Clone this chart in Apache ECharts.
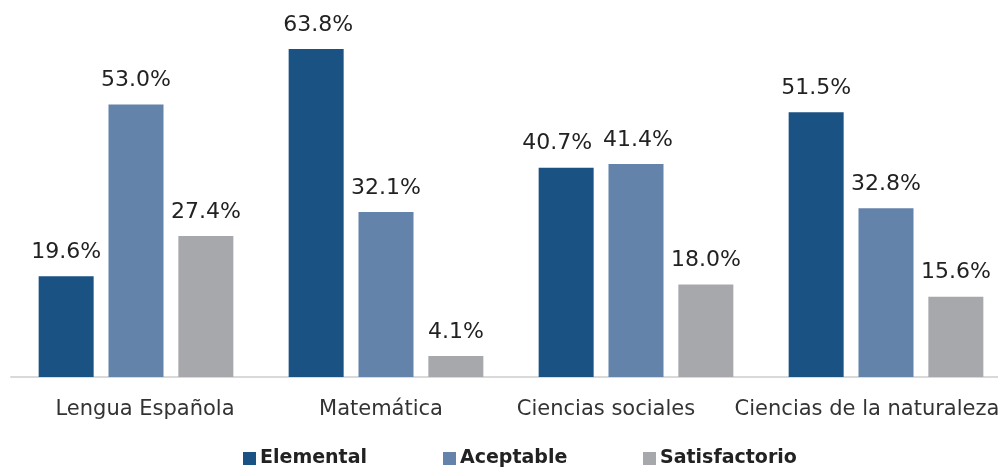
<!DOCTYPE html>
<html><head><meta charset="utf-8">
<script src="https://cdn.jsdelivr.net/npm/echarts@6/dist/echarts.min.js"></script>
<style>html,body{margin:0;padding:0;background:#fff;overflow:hidden}#c{width:1012px;height:467px}</style>
</head><body><div id="c"></div>
<script>
const categories = ['Lengua Española', 'Matemática', 'Ciencias sociales', 'Ciencias de la naturaleza'];
const seriesNames = ['Elemental', 'Aceptable', 'Satisfactorio'];
const elemental = [19.6, 63.8, 40.7, 51.5];
const aceptable = [53.0, 32.1, 41.4, 32.8];
const satisfactorio = [27.4, 4.1, 18.0, 15.6];
const colors = ['#1a5283', '#6383ab', '#a7a8ac'];
const FONT = 'DejaVu Sans';
const chart = echarts.init(document.getElementById('c'));
const values = [elemental, aceptable, satisfactorio];
const legendLefts = [238, 438, 638];
// horizontal nudges of value labels [series][category]
const labelShift = [[0, 2, -9, 0], [0, 0, 2, 0], [0, 0, 0, 0]];
// horizontal nudges of category labels (padding [top,right,bottom,left])
const labelPads = [[0,0,0,18],[0,10,0,0],[0,60,0,0],[0,38,0,0]];
const rich = {};
labelPads.forEach((p, i) => { rich['c' + i] = {fontSize: 21, color: '#333', fontFamily: FONT, padding: p}; });
chart.setOption({
  animation: false,
  textStyle: {fontFamily: FONT},
  grid: {left: 11, right: 1, top: 17, bottom: 90},
  legend: seriesNames.map((n, i) => ({
    data: [n], left: legendLefts[i], bottom: -6, itemWidth: 13, itemHeight: 13, itemGap: 4,
    icon: 'rect', textStyle: {fontSize: 19, fontWeight: 'bold', color: '#222', fontFamily: FONT, padding: [0,0,0,-1]}
  })),
  xAxis: {
    type: 'category', data: categories,
    axisLine: {lineStyle: {color: '#d9d9d9', width: 2}},
    axisTick: {show: false},
    axisLabel: {margin: 22, interval: 0, fontFamily: FONT, rich: rich,
      formatter: (v, i) => '{c' + i + '|' + v + '}'}
  },
  yAxis: {type: 'value', min: 0, max: 70, show: false, splitLine: {show: false}},
  series: seriesNames.map((n, i) => ({
    name: n, type: 'bar', barWidth: 55, barGap: '27%',
    data: values[i].map((v, j) => ({value: v, label: {offset: [labelShift[i][j], 0]}})),
    itemStyle: {color: colors[i]},
    label: {show: true, position: 'top', distance: 13, fontSize: 22, color: '#222', fontFamily: FONT,
      formatter: p => p.value.toFixed(1) + '%'}
  }))
});
</script></body></html>
